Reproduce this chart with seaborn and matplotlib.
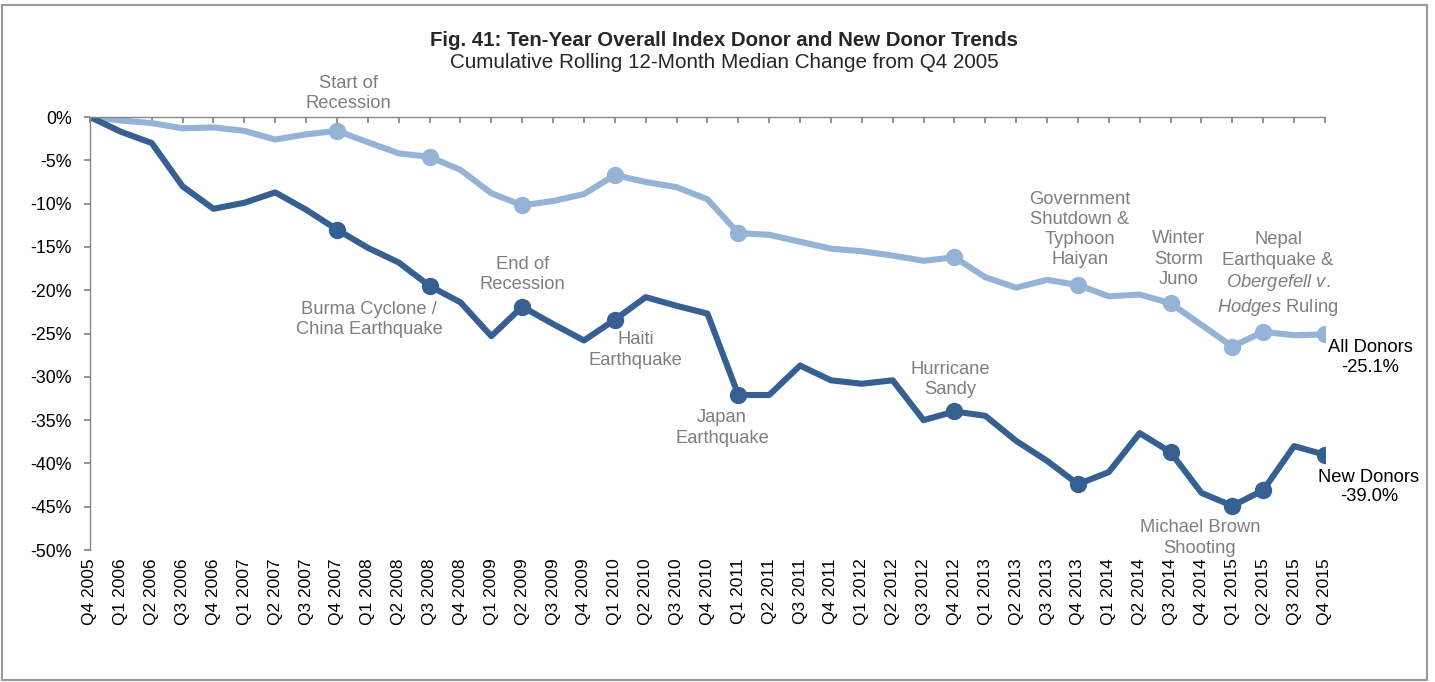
import pandas as pd
import seaborn as sns
import matplotlib.pyplot as plt
from matplotlib.patches import Rectangle
from matplotlib.ticker import FuncFormatter

# Quarterly categories (x axis)
quarters = [
    "Q4 2005",
    "Q1 2006", "Q2 2006", "Q3 2006", "Q4 2006",
    "Q1 2007", "Q2 2007", "Q3 2007", "Q4 2007",
    "Q1 2008", "Q2 2008", "Q3 2008", "Q4 2008",
    "Q1 2009", "Q2 2009", "Q3 2009", "Q4 2009",
    "Q1 2010", "Q2 2010", "Q3 2010", "Q4 2010",
    "Q1 2011", "Q2 2011", "Q3 2011", "Q4 2011",
    "Q1 2012", "Q2 2012", "Q3 2012", "Q4 2012",
    "Q1 2013", "Q2 2013", "Q3 2013", "Q4 2013",
    "Q1 2014", "Q2 2014", "Q3 2014", "Q4 2014",
    "Q1 2015", "Q2 2015", "Q3 2015", "Q4 2015",
]

# Cumulative change (%)
all_donors = [
    0.0, -0.4, -0.7, -1.3, -1.2, -1.6, -2.6, -2.0, -1.6, -2.9,
    -4.2, -4.6, -6.1, -8.8, -10.2, -9.7, -8.9, -6.7, -7.5, -8.1,
    -9.5, -13.4, -13.6, -14.4, -15.2, -15.5, -16.0, -16.6, -16.2, -18.5,
    -19.7, -18.8, -19.4, -20.7, -20.5, -21.5, -24.0, -26.5, -24.8, -25.2,
    -25.1,
]
new_donors = [
    0.0, -1.7, -3.0, -8.0, -10.6, -9.9, -8.7, -10.7, -13.0, -15.1,
    -16.8, -19.5, -21.4, -25.3, -21.9, -23.9, -25.8, -23.4, -20.8, -21.8,
    -22.7, -32.1, -32.1, -28.7, -30.4, -30.8, -30.4, -35.0, -34.0, -34.5,
    -37.4, -39.7, -42.4, -41.0, -36.5, -38.7, -43.4, -44.9, -43.1, -38.0,
    -39.0,
]

# Quarters flagged with an event marker
event_points = [8, 11, 14, 17, 21, 28, 32, 35, 37, 38, 40]

light_blue = "#95B3D7"
dark_blue = "#376092"
note_gray = "#7F7F7F"

sns.set_theme(style="white")
plt.rcParams["font.family"] = ["Liberation Sans", "DejaVu Sans"]
plt.rcParams["mathtext.fontset"] = "custom"
plt.rcParams["mathtext.rm"] = "Liberation Sans"
plt.rcParams["mathtext.it"] = "Liberation Sans:italic"

data = pd.DataFrame({
    "idx": range(len(quarters)),
    "quarter": quarters,
    "All Donors": all_donors,
    "New Donors": new_donors,
})

fig = plt.figure(figsize=(14.35, 6.82), dpi=100)
ax = fig.add_axes([0.0627, 0.1935, 0.8606, 0.6349])

sns.lineplot(data=data, x="idx", y="All Donors", ax=ax, color=light_blue,
             linewidth=4.4, marker="o", markersize=12.5, markeredgewidth=0,
             markevery=event_points)
sns.lineplot(data=data, x="idx", y="New Donors", ax=ax, color=dark_blue,
             linewidth=4.4, marker="o", markersize=12.5, markeredgewidth=0,
             markevery=event_points)

ax.set_xlim(0, len(quarters) - 1)
ax.set_ylim(-50, 0)
ax.set_xticks(data["idx"])
ax.set_xticklabels(quarters, rotation=90, fontsize=12.5, color="black")
ax.set_yticks(range(-50, 1, 5))
ax.yaxis.set_major_formatter(FuncFormatter(lambda v, p: f"{v:.0f}%"))
ax.tick_params(axis="y", labelsize=12.8, labelcolor="black", left=True,
               length=4, color="#868686", pad=9)
ax.tick_params(axis="x", top=True, bottom=False, labelbottom=True,
               labeltop=False, direction="in", length=4, color="#868686",
               pad=6)
ax.set_xlabel("")
ax.set_ylabel("")
for side in ["right", "bottom"]:
    ax.spines[side].set_visible(False)
for side in ["top", "left"]:
    ax.spines[side].set_color("#868686")
    ax.spines[side].set_linewidth(1)

# Event annotations
notes = [
    (8.36, 2.7, "Start of\nRecession"),
    (9.04, -23.4, "Burma Cyclone /\nChina Earthquake"),
    (14.02, -18.2, "End of\nRecession"),
    (17.68, -26.9, "Haiti\nEarthquake"),
    (20.47, -35.9, "Japan\nEarthquake"),
    (27.85, -30.3, "Hurricane\nSandy"),
    (32.06, -13.0, "Government\nShutdown &\nTyphoon\nHaiyan"),
    (35.27, -16.4, "Winter\nStorm\nJuno"),
    (38.48, -18.2, "Nepal\nEarthquake &\n$\\it{Obergefell\\ v.}$\n$\\it{Hodges}$ Ruling"),
    (35.95, -48.6, "Michael Brown\nShooting"),
]
for x, y, label in notes:
    ax.text(x, y, label, ha="center", va="center", fontsize=13.2,
            color=note_gray, linespacing=1.25)

ax.text(41.46, -27.8, "All Donors\n-25.1%", ha="center", va="center",
        fontsize=13.2, color="black", linespacing=1.2)
ax.text(41.42, -42.7, "New Donors\n-39.0%", ha="center", va="center",
        fontsize=13.2, color="black", linespacing=1.2)

fig.text(0.5045, 1 - 40 / 682, "Fig. 41: Ten-Year Overall Index Donor and New Donor Trends",
         ha="center", va="center", fontsize=14.7, fontweight="bold")
fig.text(0.5045, 1 - 63 / 682, "Cumulative Rolling 12-Month Median Change from Q4 2005",
         ha="center", va="center", fontsize=14.9)

fig.patches.append(Rectangle((2 / 1435, 2 / 682), 1425 / 1435, 675 / 682,
                             transform=fig.transFigure, fill=False,
                             edgecolor="#999999", linewidth=1.5))

fig.savefig("out.png", dpi=100)
